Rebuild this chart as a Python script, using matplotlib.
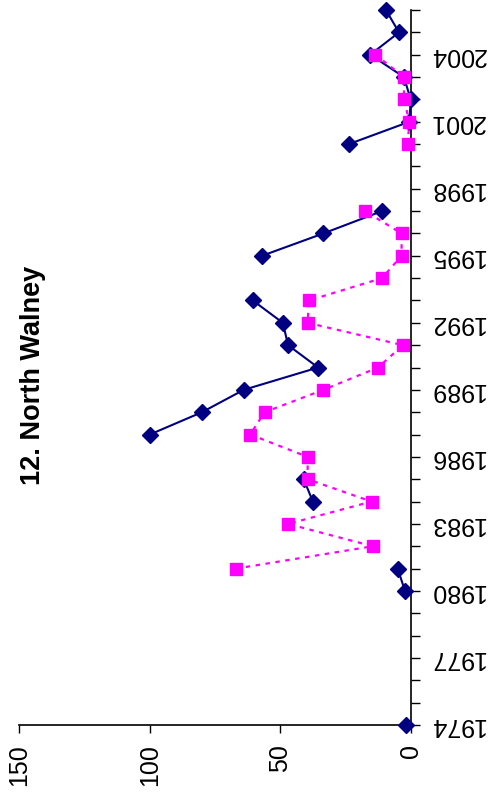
import numpy as np
import matplotlib
matplotlib.use("Agg")
import matplotlib.pyplot as plt

plt.rcParams['font.family'] = ['Liberation Sans', 'DejaVu Sans']

years = list(range(1974, 2007))

# series 1 (navy diamonds, solid line); None = no count that year
navy_vals = {1974: 2, 1980: 2.2, 1981: 5, 1984: 37.5, 1985: 41,
             1987: 100, 1988: 80, 1989: 64, 1990: 35.5, 1991: 47,
             1992: 49, 1993: 60.5, 1995: 57, 1996: 33.5, 1997: 11,
             2000: 23.7, 2001: 0.5, 2002: 0, 2003: 2.6, 2004: 15.5,
             2005: 4.5, 2006: 9.5}
# series 2 (magenta squares, dotted line)
pink_vals = {1981: 67, 1982: 14.5, 1983: 47, 1984: 15, 1985: 39.5,
             1986: 39.5, 1987: 61.5, 1988: 56, 1989: 33.5, 1990: 12.5,
             1991: 3, 1992: 39.5, 1993: 39, 1994: 11, 1995: 3.5,
             1996: 3.5, 1997: 17.5, 2000: 1.2, 2001: 0.5, 2002: 2.6,
             2003: 2.6, 2004: 13.5}

navy = np.array([navy_vals.get(y, np.nan) for y in years], dtype=float)
pink = np.array([pink_vals.get(y, np.nan) for y in years], dtype=float)

year_labels = [str(y) if (y - 1974) % 3 == 0 else '' for y in years]
value_ticks = [0, 50, 100, 150]

fig = plt.figure(figsize=(4.97, 7.96), dpi=100)
ax = fig.add_axes([0.0388, 0.0892, 0.7876, 0.8982])

# chart is drawn turned on its side: values run right->left, years bottom->top
ax.plot(navy, years, color='#000080', lw=1.5, marker='D', ms=8.5,
        mec='#000080', mfc='#000080', clip_on=False, zorder=3)
ax.plot(pink, years, color='#FF00FF', lw=1.6, ls=(0, (2, 2.5)),
        marker='s', ms=8, mec='#FF00FF', mfc='#FF00FF', clip_on=False, zorder=4)

ax.set_xlim(150, 0)
ax.set_ylim(1974, 2006)

for s in ['left', 'top']:
    ax.spines[s].set_visible(False)
for s in ['right', 'bottom']:
    ax.spines[s].set_linewidth(1.2)

ax.yaxis.tick_right()
ax.set_yticks(years)
ax.set_yticklabels(year_labels, rotation=180, va='center', fontsize=18)
ax.tick_params(axis='y', direction='out', length=6.5, width=1, pad=7)

ax.set_xticks(value_ticks)
ax.set_xticklabels([str(v) for v in value_ticks], rotation=90, fontsize=18)
ax.tick_params(axis='x', direction='out', length=6, width=1, pad=8)

fig.text(0.066, 1 - 375 / 796, '12. North Walney', rotation=90,
         fontsize=19.5, fontweight='bold', ha='center', va='center')

fig.savefig('out.png', dpi=100)
